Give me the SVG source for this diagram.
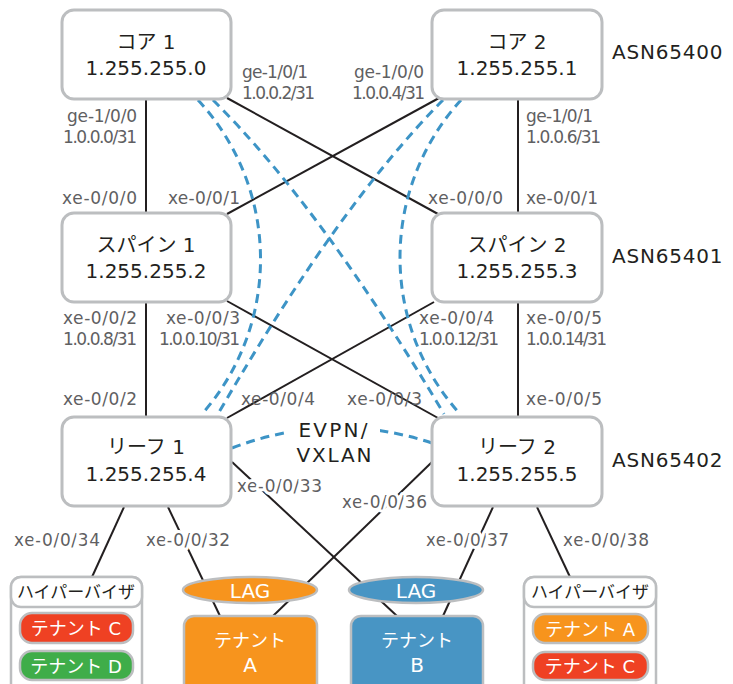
<svg xmlns="http://www.w3.org/2000/svg" width="733" height="684" viewBox="0 0 733 684">
<style>
.node{fill:#fff;stroke:#bcbec0;stroke-width:3}
.t{font-family:"DejaVu Sans","Noto Sans CJK JP",sans-serif;fill:#231f20;text-anchor:middle}
.big{font-size:20px}
.lbl{font-family:"DejaVu Sans",sans-serif;font-size:17px;fill:#5f6062}
.halo{stroke:#fff;stroke-width:6;paint-order:stroke;stroke-linejoin:round}
.asn{font-family:"DejaVu Sans",sans-serif;font-size:20px;fill:#231f20;letter-spacing:0.8px}
.ln{stroke:#231f20;stroke-width:2;fill:none}
.ds{stroke:#3d94c6;stroke-width:3;fill:none;stroke-dasharray:9 6}
.wt{font-family:"DejaVu Sans","Noto Sans CJK JP",sans-serif;fill:#fff;text-anchor:middle}
.gb{stroke:#bcbec0;stroke-width:2.5}
</style>

<g id="connectors">
  <line class="ln" x1="146" y1="99" x2="146" y2="213"/>
  <line class="ln" x1="518" y1="99" x2="518" y2="213"/>
  <line class="ln" x1="227" y1="98" x2="438" y2="214"/>
  <line class="ln" x1="439" y1="98" x2="227" y2="214"/>
  <line class="ln" x1="146" y1="302" x2="146" y2="417"/>
  <line class="ln" x1="518" y1="302" x2="518" y2="417"/>
  <line class="ln" x1="227" y1="301" x2="438" y2="418"/>
  <line class="ln" x1="434" y1="302" x2="227" y2="418"/>
  <line class="ln" x1="124" y1="507" x2="92" y2="577"/>
  <line class="ln" x1="168" y1="507" x2="220" y2="616"/>
  <line class="ln" x1="232" y1="462" x2="397" y2="616"/>
  <line class="ln" x1="432" y1="462" x2="273" y2="616"/>
  <line class="ln" x1="493" y1="507" x2="443" y2="616"/>
  <line class="ln" x1="537" y1="507" x2="570" y2="577"/>
  <path class="ds" d="M198,100 A234,234 0 0 1 202,414"/>
  <path class="ds" d="M461,100 A234,234 0 0 0 460,414"/>
  <path class="ds" d="M213,100 Q320,206 444,414"/>
  <path class="ds" d="M443,100 Q338,206 218,414"/>
  <path class="ds" d="M232,448 Q332,410 432,443"/>
</g>

<g id="core1"><rect class="node" x="62" y="10" width="169" height="89" rx="12"/>
  <text class="t big" x="146" y="49">コア 1</text><text class="t big" x="146" y="75">1.255.255.0</text></g>
<g id="core2"><rect class="node" x="432" y="10" width="170" height="89" rx="12"/>
  <text class="t big" x="517" y="49">コア 2</text><text class="t big" x="517" y="75">1.255.255.1</text></g>
<g id="spine1"><rect class="node" x="62" y="213" width="169" height="89" rx="12"/>
  <text class="t big" x="146" y="252">スパイン 1</text><text class="t big" x="146" y="278">1.255.255.2</text></g>
<g id="spine2"><rect class="node" x="432" y="213" width="170" height="89" rx="12"/>
  <text class="t big" x="517" y="252">スパイン 2</text><text class="t big" x="517" y="278">1.255.255.3</text></g>
<g id="leaf1"><rect class="node" x="62" y="417" width="169" height="89" rx="12"/>
  <text class="t big" x="146" y="454">リーフ 1</text><text class="t big" x="146" y="481">1.255.255.4</text></g>
<g id="leaf2"><rect class="node" x="432" y="417" width="170" height="89" rx="12"/>
  <text class="t big" x="517" y="454">リーフ 2</text><text class="t big" x="517" y="481">1.255.255.5</text></g>

<g id="hv1">
  <rect x="11" y="577" width="131" height="125" rx="10" fill="#fff" stroke="#bcbec0" stroke-width="2.5"/>
  <rect x="11" y="577" width="131" height="30" rx="10" fill="#fff" stroke="#bcbec0" stroke-width="2.5"/>
  <text class="t" x="76" y="598" font-size="17">ハイパーバイザ</text>
  <rect class="gb" x="20" y="613" width="113" height="30" rx="12" fill="#ef4123"/>
  <text class="wt" x="76" y="635" font-size="18">テナント C</text>
  <rect class="gb" x="20" y="651" width="113" height="29" rx="12" fill="#3fad49"/>
  <text class="wt" x="76" y="673" font-size="18">テナント D</text>
</g>
<g id="hv2">
  <rect x="524" y="577" width="132" height="125" rx="10" fill="#fff" stroke="#bcbec0" stroke-width="2.5"/>
  <rect x="524" y="577" width="132" height="30" rx="10" fill="#fff" stroke="#bcbec0" stroke-width="2.5"/>
  <text class="t" x="590" y="598" font-size="17">ハイパーバイザ</text>
  <rect class="gb" x="533" y="614" width="115" height="29" rx="12" fill="#f7941d"/>
  <text class="wt" x="590" y="636" font-size="18">テナント A</text>
  <rect class="gb" x="533" y="652" width="115" height="28" rx="12" fill="#ef4123"/>
  <text class="wt" x="590" y="673" font-size="18">テナント C</text>
</g>
<g id="tenantA">
  <rect class="gb" x="184" y="616" width="133" height="90" rx="10" fill="#f7941d"/>
  <text class="wt" x="250" y="647" font-size="18">テナント</text>
  <text class="wt" x="250" y="672" font-size="20">A</text>
</g>
<g id="tenantB">
  <rect class="gb" x="351" y="616" width="132" height="90" rx="10" fill="#4895c4"/>
  <text class="wt" x="417" y="647" font-size="18">テナント</text>
  <text class="wt" x="417" y="672" font-size="20">B</text>
</g>
<g id="lagA">
  <ellipse class="gb" cx="250" cy="590" rx="67" ry="13" fill="#f7941d"/>
  <text class="wt" x="250" y="598" font-size="20">LAG</text>
</g>
<g id="lagB">
  <ellipse class="gb" cx="416" cy="590" rx="67" ry="13" fill="#4895c4"/>
  <text class="wt" x="416" y="598" font-size="20">LAG</text>
</g>

<g id="labels">
  <text class="lbl" x="242" y="78" textLength="66" lengthAdjust="spacing">ge-1/0/1</text>
  <text class="lbl" x="242" y="99" textLength="73" lengthAdjust="spacing">1.0.0.2/31</text>
  <text class="lbl" x="354" y="78" textLength="70" lengthAdjust="spacing">ge-1/0/0</text>
  <text class="lbl" x="352" y="99" textLength="73" lengthAdjust="spacing">1.0.0.4/31</text>
  <text class="lbl" x="67" y="122" textLength="70" lengthAdjust="spacing">ge-1/0/0</text>
  <text class="lbl" x="63" y="143" textLength="74" lengthAdjust="spacing">1.0.0.0/31</text>
  <text class="lbl" x="526" y="122" textLength="67" lengthAdjust="spacing">ge-1/0/1</text>
  <text class="lbl" x="526" y="143" textLength="75" lengthAdjust="spacing">1.0.0.6/31</text>
  <text class="lbl" x="62" y="204" textLength="75" lengthAdjust="spacing">xe-0/0/0</text>
  <text class="lbl" x="168" y="204" textLength="72" lengthAdjust="spacing">xe-0/0/1</text>
  <text class="lbl" x="428" y="204" textLength="75" lengthAdjust="spacing">xe-0/0/0</text>
  <text class="lbl" x="526" y="204" textLength="72" lengthAdjust="spacing">xe-0/0/1</text>
  <text class="lbl" x="63" y="324" textLength="74" lengthAdjust="spacing">xe-0/0/2</text>
  <text class="lbl" x="63" y="345" textLength="74" lengthAdjust="spacing">1.0.0.8/31</text>
  <text class="lbl" x="166" y="324" textLength="74" lengthAdjust="spacing">xe-0/0/3</text>
  <text class="lbl" x="159" y="345" textLength="81" lengthAdjust="spacing">1.0.0.10/31</text>
  <text class="lbl" x="419" y="324" textLength="75" lengthAdjust="spacing">xe-0/0/4</text>
  <text class="lbl" x="419" y="345" textLength="80" lengthAdjust="spacing">1.0.0.12/31</text>
  <text class="lbl" x="526" y="324" textLength="76" lengthAdjust="spacing">xe-0/0/5</text>
  <text class="lbl" x="526" y="345" textLength="81" lengthAdjust="spacing">1.0.0.14/31</text>
  <text class="lbl" x="63" y="405" textLength="74" lengthAdjust="spacing">xe-0/0/2</text>
  <text class="lbl" x="241" y="405" textLength="74" lengthAdjust="spacing">xe-0/0/4</text>
  <text class="lbl" x="347" y="405" textLength="75" lengthAdjust="spacing">xe-0/0/3</text>
  <text class="lbl" x="526" y="405" textLength="76" lengthAdjust="spacing">xe-0/0/5</text>
  <text class="lbl halo" x="237" y="492" textLength="85" lengthAdjust="spacing">xe-0/0/33</text>
  <text class="lbl halo" x="342" y="508" textLength="85" lengthAdjust="spacing">xe-0/0/36</text>
  <text class="lbl halo" x="14" y="546" textLength="86" lengthAdjust="spacing">xe-0/0/34</text>
  <text class="lbl halo" x="146" y="546" textLength="84" lengthAdjust="spacing">xe-0/0/32</text>
  <text class="lbl halo" x="426" y="546" textLength="83" lengthAdjust="spacing">xe-0/0/37</text>
  <text class="lbl halo" x="563" y="546" textLength="86" lengthAdjust="spacing">xe-0/0/38</text>
  <rect x="287" y="418" width="93" height="50" fill="#fff"/>
  <text class="t big" x="333" y="437" textLength="69" lengthAdjust="spacing">EVPN/</text>
  <text class="t big" x="334" y="462" textLength="75" lengthAdjust="spacing">VXLAN</text>
  <text class="asn" x="612" y="59">ASN65400</text>
  <text class="asn" x="612" y="263">ASN65401</text>
  <text class="asn" x="612" y="467">ASN65402</text>
</g>
</svg>
